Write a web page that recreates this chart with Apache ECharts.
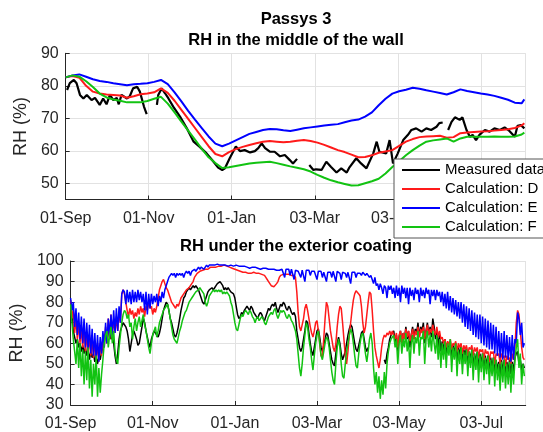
<!DOCTYPE html>
<html>
<head>
<meta charset="utf-8">
<script src="https://cdn.jsdelivr.net/npm/echarts@6/dist/echarts.min.js"></script>
<style>
  html, body { margin: 0; padding: 0; background: #fff; }
  #chart { width: 543px; height: 432px; }
</style>
</head>
<body>
<div id="chart"></div>
<script>
// Passys 3 test wall: relative humidity, measured vs. three calculation variants.
// x values are days counted from 01-Sep.

const xTickLabels = ['01-Sep', '01-Nov', '01-Jan', '03-Mar', '03-May', '03-Jul'];
const seriesNames = ['Measured data', 'Calculation: D', 'Calculation: E', 'Calculation: F'];

// ---- Middle of the wall ----
const calcDays = [0,5,10,15,20,25,30,35,40,45,50,55,60,65,70,75,80,85,90,95,
  100,105,110,115,120,125,130,135,140,145,150,155,160,165,170,175,180,185,190,195,
  200,205,210,215,220,225,230,235,240,245,250,255,260,265,270,275,280,285,290,295,
  300,305,310,315,320,325,330,335,337];

const middleD = [82.6,83,82.5,80,78.2,77.6,77.3,77.2,77,76.3,
  76.8,77.4,77.6,78,79.2,77.8,75.4,72.6,69.8,67,
  64.2,61.4,59,58.3,59.6,60.5,61.2,61.8,62.3,62.8,
  63,62.8,62.6,62.8,63.1,63.3,63,62.5,61.8,61,
  60.2,59.6,58.8,58,58.1,58.6,59.4,59.8,60.2,61.5,
  62.8,63.6,64.2,64.4,64.5,64.6,64,64.2,65.4,65.6,
  65.8,65.9,66,66.2,66.4,66.6,67,67.8,68.5];

const middleE = [82.6,83.2,83.5,82.8,82,81.5,81.2,80.8,80.5,80.2,
  80.5,80.6,80.8,81.2,81.8,80.5,78,75.2,72.3,69.6,
  67,64.4,62.2,61.4,62.2,63.2,64.2,65.2,65.8,66.4,
  66.7,66.6,66.3,66.1,66.5,66.9,67.2,67.5,67.8,68,
  68.2,68.8,69.3,69.6,70.5,71.8,74,76,77.6,78.3,
  78.8,79.4,79.1,78.6,78.2,77.8,77.3,78,78.9,78.4,
  78,77.6,77.3,76.9,76.3,75.7,74.8,74.6,75.8];

const middleF = [82.6,83.2,82.8,81.4,79.6,77.6,76.4,75.8,75.4,74.9,
  74.9,74.9,75.3,76,76.6,74.5,71.8,69,66.2,63.4,
  60.6,58,56.2,54.7,54.9,55.3,55.7,56.1,56.3,56.5,
  56.6,56.2,55.7,55.2,54.8,54.3,53.6,52.6,51.7,50.9,
  50.3,49.8,49.3,49.4,50,50.6,51.4,53,55,56.8,
  58.6,60.2,61.6,62.8,63.2,63.5,63.8,62.8,63.8,64.3,
  64.3,64.3,64.3,64.4,64.3,64.3,64.4,65,65.6];

const measuredDays = [1,3,6,8,10.5,13,15.5,19,21.5,25,
  27.5,30,32.5,35,37.5,39,41,45,47,49.5,
  52.5,54.5,57.5,59.5,63,67,68,70.5,73,75.5,
  79,84,89,94,98.5,103.5,108.5,112,115,117,
  120.5,123,125,128,131.5,135.5,139,141.5,144,146.5,
  150,153.5,157.5,161,164.5,167,170,174,179,182,
  184,188,191.5,195,199,202.5,206.5,208.5,213.5,217,
  221,226,228.5,230.5,235.5,238,240.5,244,248,251.5,
  254,257.5,261.5,265,268.5,272.5,274.5,277,279,281,
  283.5,286,289.5,291.5,294.5,297,299,301.5,304,308,
  311.5,315,319,322.5,326,330,332,334.5,337];

// null = no measurement (logger gap)
const measuredRH = [78.7,80.8,81.8,80.8,77.2,76.1,77.2,75.6,76.3,74.1,
  76.1,74.3,77.2,75.6,76.3,74.3,77.2,76.1,76.7,79.2,
  79.7,78.2,73.6,71.3,null,74.1,77.2,79.2,77.7,76.1,
  73.6,70.5,66.9,62.8,61.2,59.2,56.7,54.8,54.1,54.6,
  57.7,59.7,61.3,59.9,60.2,59.5,59.9,60.8,62.3,60.8,
  59.7,59.7,58.3,58.7,57.2,56.1,57.5,null,55.6,54.1,
  54.3,54.1,56.6,55,53.3,54.6,53.3,54.9,57.7,56.1,
  54.6,59.2,62.8,59.7,59.2,63.3,56.1,59.2,63.3,64.9,
  66.4,66.9,65.9,66.9,66.4,67.4,68.5,68.7,null,66.4,
  68.9,70.3,69.5,70.3,66.4,64.3,64.9,63.3,64.9,66.4,
  65.9,66.9,66.4,67.2,66.1,64.3,67.7,67.9,66.9];

// ---- Under the exterior coating: one value per day, day 0 = 01-Sep ----
const coatingMeasured = [80,74,66,63,60,62,58,60,56,59,
  55,58,54,57,52,56,53,55,51,54,
  50,53,52,56,58,62,65,60,66,68,
  62,64,60,54,50,55,62,66,68,70,
  69,68,66,62,56,60,64,66,64,62,
  59,60,64,68,72,70,66,63,60,58,
  62,64,66,65,64,63,65,68,72,76,
  78,80,79,76,72,70,67,64,63,65,
  68,72,76,79,82,83,85,86,87,86,
  87,88,87,88,87,86,84,82,80,79,
  81,83,85,86,86,87,86,87,88,89,
  89.5,90,89,88,86,87,86,87,86,85,
  85,84,82,78,74,72,73,75,74,76,
  77,78,77,76,78,77,75,74,73,72,
  74,75,74,72,71,73,75,77,76,78,
  79,78,80,77,75,77,79,78,80,79,
  77,76,78,77,75,74,75,73,66,62,
  58,56,58,62,66,71,70,65,60,56,
  54,58,62,66,67,63,58,56,59,62,
  65,64,60,56,52,50,49,55,60,63,
  60,55,52,52,56,60,64,67,69,68,
  64,60,57,56,59,62,65,66,62,58,
  56,58,null,null,null,null,null,null,null,null,
  null,null,null,52,50,55,58,62,64,65,
  66,60,64,56,63,66,60,65,62,68,
  62,66,58,64,68,62,67,65,70,63,
  68,66,70,60,66,70,64,68,63,72,
  68,62,66,58,64,56,61,56,62,54,
  60,56,61,52,59,55,60,50,58,54,
  59,50,57,54,58,49,56,52,57,48,
  55,51,56,47,55,50,55,46,54,49,
  54,45,53,48,53,45,52,47,51,44,
  52,46,52,44,51,46,52,45,51,46,
  53,55,56,50,52,47,50,48];

const coatingD = [81,72,76,65,72,62,70,60,68,58,
  67,56,65,55,64,54,62,53,61,52,
  60,51,60,54,62,58,68,60,72,62,
  74,64,72,65,73,66,75,70,84,86,
  84,80,76,73,77,74,76,72,75,73,
  77,74,78,75,77,73,78,76,80,77,
  78,74,77,75,78,82,86,88,90,91,
  89,87,86,84,82,80,79,78,77,79,
  78,80,82,83,84,85,86,86,87,88,
  89,90,92,93,94,94,95,95,95.5,96,
  96,96.5,96,96.5,97,97,97,97.5,97,97.5,
  97.5,98,97.5,98,98,98,97.5,97.5,97,97,
  96.5,96,96,95.5,95.5,95,95,95,94.5,95,
  94.5,94.5,94,94.5,94,94,94.5,94,94,93.5,
  94,93.5,93.5,93,93,92,91,90,89,88,
  88,87.5,88,89,90,92,93,93.5,93.5,93,
  93.5,93,93.5,93,93,92.5,93,92,85,75,
  68,66,66,72,77,79,76,72,68,65,
  63,66,70,71,66,60,54,53,62,72,
  80,78,72,66,62,58,56,60,68,74,
  78,77,70,62,54,50,56,64,70,76,
  81,84,85.5,85,84,83,78,70,65,68,
  74,80,85,84,76,66,58,54,51,48,
  52,58,62,64,63,65,64,66,64,66,
  66,62,65,58,64,66,60,65,62,67,
  63,66,61,64,67,62,66,64,68,63,
  67,65,68,62,66,69,64,67,65,69,
  66,64,68,63,66,62,63,60,62,58,
  61,59,62,57,60,59,61,56,60,58,
  60,55,59,57,59,54,58,57,59,54,
  58,56,58,53,57,56,57,52,57,55,
  56,51,56,55,56,50,55,54,55,50,
  55,53,54,49,54,52,53,50,55,52,
  58,70,76,74,66,58,53,52];

const coatingE = [82,76,80,68,77,64,75,62,73,60,
  72,58,70,57,69,55,67,54,65,52,
  64,51,63,55,66,58,70,60,72,63,
  74,64,76,65,77,66,78,70,84,86,
  85,79,86,80,85,79,86,80,85,80,
  86,81,85,80,84,76,85,74,84,77,
  84,79,83,80,84,78,83,80,85,82,
  86,88,90,92,93,94,93,94,92,94,
  93,94,93,94,92,94,95,94,95,93,
  95,95,96,95,96,97,96,97,97,96,
  97,98,97,98,98,98,97.5,98,98,98.5,
  98,98,97.5,98,98.5,98,98,97.5,98,98,
  98,97.5,98,98,97.5,97.5,98,97.5,97,97.5,
  97,97,97,96.5,97,97,96.5,97,96.5,96.5,
  97,96,96.5,96.5,96,96.5,96,96,96.5,96,
  95.5,96,96,95.5,96,95.5,96,96,95.5,92,
  96,95.5,96,93,96,95.5,91,95.5,96,95,
  95.5,92,95.5,95,90,95.5,95,95.5,93,95,
  95.5,95,94.5,91,95,94.5,95,92,94.5,95,
  90,94.5,95,94.5,92,95,94.5,90,95,94.5,
  94,91,94.5,95,94,92,94.5,94,89,94.5,
  94,94.5,92,94,94.5,94,93,94.5,94,93,
  94,93.5,92,93,91,89,92,88,89,86,
  89,87,84,88,87,82,88,86,88,84,
  87,82,88,83,87,80,88,84,87,82,
  87,79,87,83,86,81,87,84,86,80,
  87,83,86,82,87,84,86,79,86,83,
  86,81,86,83,85,80,85,78,84,77,
  85,76,83,75,82,74,81,73,80,72,
  80,70,79,68,78,67,77,66,76,64,
  75,63,74,62,74,60,73,59,72,58,
  71,57,70,57,69,55,68,54,66,53,
  65,52,66,53,64,52,63,51,64,52,
  62,60,75,72,64,70,58,60];

const coatingF = [79,70,62,56,50,62,48,60,44,57,
  40,56,42,58,38,52,34,50,40,54,
  34,48,36,45,52,60,64,66,58,64,
  68,60,66,56,52,50,58,64,70,74,
  76,75,72,74,68,70,62,68,72,66,
  70,73,68,71,74,69,66,62,58,55,
  60,64,66,68,63,66,70,72,74,76,
  77,78,79,76,72,68,64,62,61,60,
  63,66,68,71,73,75,76,78,80,81,
  82,83,84,85,85,86,87,86,85,84,
  80,78,80,83,84,85,86,85,86,85,
  86,85,86,84,85,84,85,84,83,80,
  78,74,70,67,66,69,72,74,73,75,
  76,75,74,76,75,73,72,70,72,73,
  71,72,73,72,70,69,71,73,74,75,
  74,76,77,74,72,74,76,75,76,75,
  73,72,74,73,71,70,68,66,62,55,
  48,44,50,58,64,70,68,62,58,52,
  47,54,60,64,66,60,54,52,56,60,
  63,62,58,52,46,42,40,50,58,62,
  58,50,44,43,50,56,60,64,67,65,
  60,54,49,48,55,60,64,65,60,55,
  51,56,62,65,60,48,40,46,36,44,
  33,42,35,46,38,50,56,60,62,63,
  64,58,62,50,60,64,55,62,58,65,
  56,62,48,60,64,55,63,60,66,54,
  63,62,66,50,62,66,58,64,56,66,
  60,55,64,52,62,48,60,52,61,48,
  60,54,62,46,58,52,60,44,57,50,
  58,45,56,50,57,44,56,48,57,42,
  55,47,56,41,54,46,55,42,53,45,
  54,40,52,44,53,39,52,42,50,37,
  51,41,52,38,50,40,51,36,50,40,
  52,58,62,48,55,40,50,44];

// ---- styling ----
const FONT = '"Liberation Sans", Arial, Helvetica, sans-serif';
const INK = '#262626';
const GRID_LINE = '#e2e2e2';
const COLORS = ['#000000', '#ff1a1a', '#0000ff', '#12c312'];
const TICK_STEP = 61;
const X_MAX = 338;

const toPairs = (xs, ys) => xs.map((x, i) => [x, ys[i] == null ? '-' : ys[i]]);
const dailyPairs = ys => ys.map((y, i) => [i, y == null ? '-' : y]);

function xAxis(gridIndex) {
  return {
    type: 'value', gridIndex, min: 0, max: X_MAX, interval: TICK_STEP,
    axisLine: { show: true, onZero: false, lineStyle: { color: INK, width: 1 } },
    axisTick: { show: true, inside: true, length: 4, lineStyle: { color: INK } },
    axisLabel: {
      color: INK, fontSize: 16, fontFamily: FONT, margin: 11,
      showMaxLabel: false,
      formatter: v => {
        const k = Math.round(v / TICK_STEP);
        return Math.abs(v - k * TICK_STEP) < 1e-6 && k < xTickLabels.length ? xTickLabels[k] : '';
      }
    },
    splitLine: { show: true, lineStyle: { color: GRID_LINE, width: 1 } }
  };
}

function yAxis(gridIndex, min, max) {
  return {
    type: 'value', gridIndex, min, max, splitNumber: 5,
    name: 'RH (%)', nameLocation: 'middle', nameRotate: 90, nameGap: 23,
    nameTextStyle: { color: INK, fontSize: 18, fontFamily: FONT },
    axisLine: { show: true, lineStyle: { color: INK, width: 1 } },
    axisTick: { show: true, inside: true, length: 4, lineStyle: { color: INK } },
    axisLabel: { color: INK, fontSize: 16, fontFamily: FONT, margin: 7, showMinLabel: min % 10 === 0 },
    splitLine: { show: true, lineStyle: { color: GRID_LINE, width: 1 } }
  };
}

function line(name, data, axisIndex, width, color) {
  return {
    type: 'line', name, data, xAxisIndex: axisIndex, yAxisIndex: axisIndex,
    color, showSymbol: false, symbol: 'none', connectNulls: false,
    lineStyle: { width, color }, emphasis: { disabled: true }, silent: true
  };
}

const chart = echarts.init(document.getElementById('chart'), null, { renderer: 'canvas' });

chart.setOption({
  animation: false,
  backgroundColor: '#ffffff',
  grid: [
    { left: 65.7, top: 53.3, width: 460, height: 146.2 },
    { left: 65.7, top: 261, width: 460, height: 148 }
  ],
  xAxis: [xAxis(0), xAxis(1)],
  yAxis: [yAxis(0, 45, 90), yAxis(1, 30, 100)],
  graphic: [
    { type: 'text', x: 296, y: 19, style: { text: 'Passys 3', fontSize: 16.5, fontWeight: 'bold', fontFamily: FONT, fill: '#000', align: 'center', verticalAlign: 'middle' } },
    { type: 'text', x: 296, y: 40.5, style: { text: 'RH in the middle of the wall', fontSize: 16.5, fontWeight: 'bold', fontFamily: FONT, fill: '#000', align: 'center', verticalAlign: 'middle' } },
    { type: 'text', x: 296, y: 246, style: { text: 'RH under the exterior coating', fontSize: 16.5, fontWeight: 'bold', fontFamily: FONT, fill: '#000', align: 'center', verticalAlign: 'middle' } }
  ],
  legend: {
    data: seriesNames,
    orient: 'vertical', left: 394, top: 159,
    backgroundColor: '#ffffff', borderColor: '#555555', borderWidth: 1,
    padding: [1.5, 20, 1.5, 8],
    itemGap: 0, itemWidth: 38, itemHeight: 2, icon: 'rect',
    selectedMode: false,
    textStyle: { fontSize: 15, fontFamily: FONT, color: '#000', lineHeight: 19 }
  },
  series: [
    line(seriesNames[0], toPairs(measuredDays, measuredRH), 0, 2.2, COLORS[0]),
    line(seriesNames[1], toPairs(calcDays, middleD), 0, 2, COLORS[1]),
    line(seriesNames[2], toPairs(calcDays, middleE), 0, 2, COLORS[2]),
    line(seriesNames[3], toPairs(calcDays, middleF), 0, 2, COLORS[3]),
    line(seriesNames[0], dailyPairs(coatingMeasured), 1, 1.5, COLORS[0]),
    line(seriesNames[1], dailyPairs(coatingD), 1, 1.5, COLORS[1]),
    line(seriesNames[2], dailyPairs(coatingE), 1, 1.5, COLORS[2]),
    line(seriesNames[3], dailyPairs(coatingF), 1, 1.5, COLORS[3])
  ]
});
</script>
</body>
</html>
